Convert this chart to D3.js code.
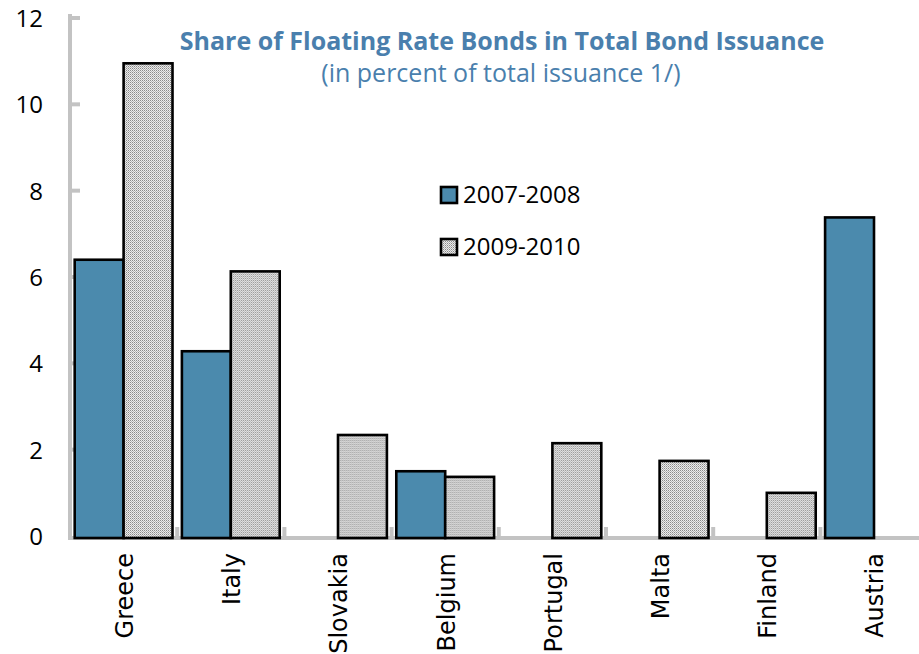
<!DOCTYPE html>
<html>
<head>
<meta charset="utf-8">
<script src="https://cdn.jsdelivr.net/npm/d3@7"></script>
<style>
  html, body { margin: 0; padding: 0; background: #fff; }
  svg { display: block; }
</style>
</head>
<body>
<svg id="chart" width="919" height="654"></svg>
<script>
// Data
const countries = ["Greece", "Italy", "Slovakia", "Belgium", "Portugal", "Malta", "Finland", "Austria"];
const period1 = [6.4, 4.28, 0, 1.5, 0, 0, 0, 7.38];   // 2007-2008
const period2 = [10.95, 6.13, 2.34, 1.37, 2.15, 1.74, 1.0, 0]; // 2009-2010
const seriesNames = ["2007-2008", "2009-2010"];
const yTicks = [0, 2, 4, 6, 8, 10, 12];

const svg = d3.select("#chart");
const W = 919, H = 654;
const sans = "'Open Sans', 'Noto Sans', sans-serif";

const left = 70, bandStep = 107.2;
const x = d3.scaleBand().domain(countries).range([left, left + bandStep * countries.length]).paddingInner(0).paddingOuter(0);
const xs = d3.scaleBand().domain(seriesNames).range([0, x.bandwidth()]).paddingInner(0).paddingOuter(0.096);
const y = d3.scaleLinear().domain([0, 12]).range([536, 18]);

// Fine dotted fill used for the second period
const defs = svg.append("defs");
const pat = defs.append("pattern").attr("id", "dots").attr("patternUnits", "userSpaceOnUse")
  .attr("width", 2).attr("height", 2);
pat.append("rect").attr("width", 2).attr("height", 2).attr("fill", "#ececec");
pat.append("rect").attr("width", 1).attr("height", 1).attr("fill", "#8a8a8a");
pat.append("rect").attr("x", 1).attr("y", 1).attr("width", 1).attr("height", 1).attr("fill", "#b5b5b5");

const fills = ["#4b8aad", "url(#dots)"];
const grey = "#c3c3c3";

// Left axis
const yAxis = d3.axisLeft(y).tickValues(yTicks).tickSize(0).tickPadding(0);
const ya = svg.append("g").attr("transform", `translate(${left},0)`).call(yAxis);
ya.select(".domain").remove();
ya.selectAll("text").attr("x", -27).attr("text-anchor", "end").attr("dy", "0.35em")
  .style("font-family", sans).style("font-size", "24px").attr("fill", "#000");
svg.append("line").attr("x1", left).attr("x2", left).attr("y1", 14).attr("y2", 540)
  .attr("stroke", grey).attr("stroke-width", 4);
svg.selectAll(".ytick").data(yTicks.filter(d => d > 0)).join("line")
  .attr("x1", left).attr("x2", left + 10).attr("y1", d => y(d)).attr("y2", d => y(d))
  .attr("stroke", grey).attr("stroke-width", 4);

// Bottom axis line and category separators
svg.append("line").attr("x1", left - 2).attr("x2", W).attr("y1", 538).attr("y2", 538)
  .attr("stroke", grey).attr("stroke-width", 4);
svg.selectAll(".xtick").data(countries.slice(1)).join("line")
  .attr("x1", d => x(d)).attr("x2", d => x(d)).attr("y1", 538).attr("y2", 527)
  .attr("stroke", grey).attr("stroke-width", 4);

// Bars
const rows = countries.map((c, i) => ({ c, v: [period1[i], period2[i]] }));
const groups = svg.selectAll(".grp").data(rows).join("g")
  .attr("transform", d => `translate(${x(d.c)},0)`);
groups.selectAll("rect").data(d => d.v.map((v, j) => ({ v, j })).filter(e => e.v > 0)).join("rect")
  .attr("x", e => xs(seriesNames[e.j]))
  .attr("width", xs.bandwidth())
  .attr("y", e => y(e.v))
  .attr("height", e => y(0) - y(e.v) + 2)
  .attr("fill", e => fills[e.j])
  .attr("stroke", "#000").attr("stroke-width", 2.6);

// Category labels
svg.selectAll(".xlab").data(countries).join("text")
  .attr("transform", d => `translate(${x(d) + x.bandwidth() / 2 + 1},553) rotate(-90)`)
  .attr("text-anchor", "end").attr("dy", "0.35em")
  .style("font-family", "'DejaVu Sans', sans-serif").style("font-size", "24px")
  .attr("fill", "#000").text(d => d);

// Title
svg.append("text").attr("x", 502).attr("y", 50).attr("text-anchor", "middle")
  .style("font-family", sans).style("font-size", "25px").style("font-weight", "bold")
  .attr("fill", "#4a7fad").text("Share of Floating Rate Bonds in Total Bond Issuance");
svg.append("text").attr("x", 501).attr("y", 82).attr("text-anchor", "middle")
  .style("font-family", sans).style("font-size", "25px")
  .attr("fill", "#4a7fad").text("(in percent of total issuance 1/)");

// Legend
const legend = svg.selectAll(".leg").data(seriesNames).join("g")
  .attr("transform", (d, i) => `translate(441,${187 + i * 52})`);
legend.append("rect").attr("width", 16).attr("height", 16)
  .attr("fill", (d, i) => fills[i]).attr("stroke", "#000").attr("stroke-width", 2.6);
legend.append("text").attr("x", 22).attr("y", 8).attr("dy", "0.35em")
  .style("font-family", sans).style("font-size", "24px")
  .attr("fill", "#000").text(d => d);
</script>
</body>
</html>
